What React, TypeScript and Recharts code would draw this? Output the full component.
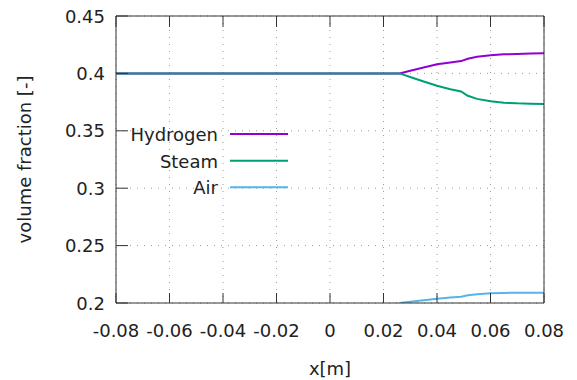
import { LineChart, Line, XAxis, YAxis, CartesianGrid, Legend } from 'recharts';

// position along the channel [m]
const xs = [-0.08, 0.026, 0.03, 0.035, 0.04, 0.045, 0.049, 0.0515, 0.055, 0.06, 0.065, 0.07, 0.075, 0.08];
const hydrogen = [0.4, 0.4, 0.4023, 0.4051, 0.408, 0.4095, 0.4107, 0.4128, 0.4145, 0.4158, 0.4166, 0.417, 0.4173, 0.4175];
const steam = [0.4, 0.4, 0.3969, 0.393, 0.3892, 0.3862, 0.3843, 0.3805, 0.3778, 0.3757, 0.3745, 0.3739, 0.3736, 0.3734];
const air = [null, 0.2, 0.201, 0.2023, 0.2036, 0.2047, 0.2055, 0.2068, 0.2077, 0.2085, 0.2088, 0.2089, 0.209, 0.209];

const seriesNames = ['Hydrogen', 'Steam', 'Air'];
const xTicks = [-0.08, -0.06, -0.04, -0.02, 0, 0.02, 0.04, 0.06, 0.08];
const yTicks = [0.2, 0.25, 0.3, 0.35, 0.4, 0.45];

const data = xs.map((x, i) => ({ x, hydrogen: hydrogen[i], steam: steam[i], air: air[i] }));

const TEXT = '#222';
const BORDER = '#333';
const FONT = 18;

function BottomTick({ x, y, payload }: any) {
  return (
    <g>
      <line x1={x} y1={y} x2={x} y2={y - 10} stroke={BORDER} />
      <text x={x} y={y + 34} textAnchor="middle" fill={TEXT} fontSize={FONT}>
        {String(payload.value)}
      </text>
    </g>
  );
}

function LeftTick({ x, y, payload }: any) {
  return (
    <g>
      <line x1={x} y1={y} x2={x + 12} y2={y} stroke={BORDER} />
      <text x={x - 11} y={y + 6.5} textAnchor="end" fill={TEXT} fontSize={FONT}>
        {String(payload.value)}
      </text>
    </g>
  );
}

function TopTick({ x, y }: any) {
  return <line x1={x} y1={y} x2={x} y2={y + 11} stroke={BORDER} />;
}

function RightTick({ x, y }: any) {
  return <line x1={x} y1={y} x2={x - 12} y2={y} stroke={BORDER} />;
}

// gnuplot-style key: label right-aligned, sample line after it, in plot order
function KeyBox({ payload }: any) {
  const items = [...(payload || [])].sort(
    (a: any, b: any) => seriesNames.indexOf(a.value) - seriesNames.indexOf(b.value)
  );
  return (
    <svg width={200} height={85} style={{ display: 'block' }}>
      {items.map((p: any, i: number) => {
        const cy = 16 + i * 26.67;
        return (
          <g key={p.value}>
            <text x={118} y={cy + 7} textAnchor="end" fill={TEXT} fontSize={FONT}>
              {p.value}
            </text>
            <line x1={130} y1={cy} x2={188} y2={cy} stroke={p.color} strokeWidth={2} />
          </g>
        );
      })}
    </svg>
  );
}

export default function App() {
  return (
    <div style={{ position: 'absolute', left: 0, top: 0, width: 577, height: 380, background: '#fff', fontFamily: '"DejaVu Sans", Verdana, sans-serif' }}>
      <LineChart width={577} height={380} data={data} margin={{ top: 10, right: 23, bottom: 3, left: 10 }}>
        <CartesianGrid stroke="#9a9a9a" strokeDasharray="1 6" />
        <XAxis
          dataKey="x"
          type="number"
          domain={[-0.08, 0.08]}
          ticks={xTicks}
          interval={0}
          height={74}
          tickSize={0}
          tickMargin={0}
          tick={<BottomTick />}
          stroke={BORDER}
          label={{ value: 'x[m]', position: 'insideBottom', offset: 2, fill: TEXT, fontSize: FONT }}
        />
        <XAxis
          xAxisId="top"
          orientation="top"
          dataKey="x"
          type="number"
          domain={[-0.08, 0.08]}
          ticks={xTicks}
          interval={0}
          height={6}
          tickSize={0}
          tickMargin={0}
          tick={<TopTick />}
          stroke={BORDER}
        />
        <YAxis
          type="number"
          domain={[0.2, 0.45]}
          ticks={yTicks}
          interval={0}
          width={106}
          tickSize={0}
          tickMargin={0}
          tick={<LeftTick />}
          stroke={BORDER}
          allowDataOverflow
          label={{
            value: 'volume fraction [-]',
            angle: -90,
            position: 'insideLeft',
            offset: 15,
            fill: TEXT,
            fontSize: FONT,
            style: { textAnchor: 'middle' },
          }}
        />
        <YAxis
          yAxisId="right"
          orientation="right"
          type="number"
          domain={[0.2, 0.45]}
          ticks={yTicks}
          interval={0}
          width={10}
          tickSize={0}
          tickMargin={0}
          tick={<RightTick />}
          stroke={BORDER}
        />
        <Legend
          layout="vertical"
          align="center"
          verticalAlign="middle"
          content={<KeyBox />}
          wrapperStyle={{ left: 100, top: 118, width: 200, height: 85 }}
        />
        <Line name="Hydrogen" dataKey="hydrogen" type="linear" stroke="#9400d3" strokeWidth={2} dot={false} isAnimationActive={false} />
        <Line name="Steam" dataKey="steam" type="linear" stroke="#009e73" strokeWidth={2} dot={false} isAnimationActive={false} />
        <Line name="Air" dataKey="air" type="linear" stroke="#56b4e9" strokeWidth={2} dot={false} isAnimationActive={false} />
      </LineChart>
    </div>
  );
}
